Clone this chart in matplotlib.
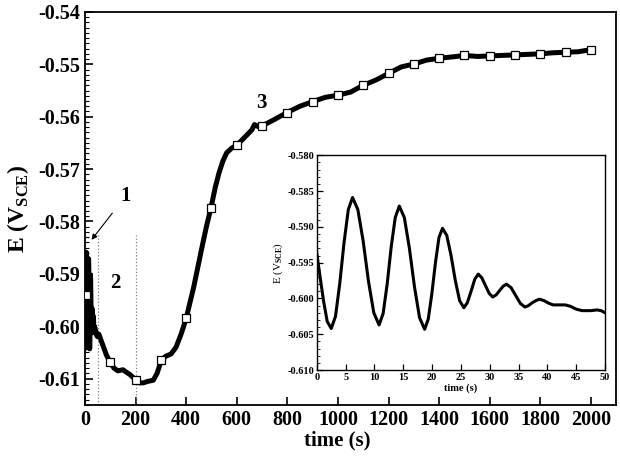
import numpy as np
import matplotlib
matplotlib.use('Agg')
import matplotlib.pyplot as plt
from matplotlib.ticker import MultipleLocator, FormatStrFormatter

plt.rcParams['font.family'] = ['Liberation Serif', 'DejaVu Serif']
plt.rcParams['font.weight'] = 'bold'
plt.rcParams['mathtext.fontset'] = 'custom'
plt.rcParams['mathtext.rm'] = 'Liberation Serif:bold'
plt.rcParams['mathtext.bf'] = 'Liberation Serif:bold'

# inset: first 50 s of the open circuit potential
inset_t = [0, 0.6, 1.2, 1.8, 2.5, 3.24, 3.98, 4.72, 5.46, 6.2,
           7.12, 8.04, 8.96, 9.88, 10.8, 11.5, 12.2, 12.9, 13.6, 14.3,
           15.18, 16.06, 16.94, 17.82, 18.7, 19.32, 19.94, 20.56, 21.18, 21.8,
           22.54, 23.28, 24.02, 24.76, 25.5, 26.1, 26.75, 27.4, 28.0,
           28.6, 29.25, 29.9, 30.5, 31.1, 31.7, 32.3, 32.9,
           33.7, 34.5, 35.3, 36.1, 36.7, 37.35, 38.0, 38.6,
           39.4, 40.3, 41.0, 41.6, 43.1, 44.0, 45.0, 46.0, 47.5, 48.6, 49.3, 50.0]
inset_E = [-0.5937, -0.5972, -0.6005, -0.6032, -0.6042, -0.6025, -0.5979, -0.5922, -0.5876, -0.5859,
           -0.5876, -0.5920, -0.5976, -0.6020, -0.6037, -0.6021, -0.5980, -0.5928, -0.5887, -0.5871,
           -0.5887, -0.5930, -0.5984, -0.6027, -0.6043, -0.6029, -0.5994, -0.5951, -0.5915, -0.5902,
           -0.5912, -0.5940, -0.5975, -0.6003, -0.6013, -0.6006, -0.5990, -0.5973, -0.5966,
           -0.5971, -0.5982, -0.5993, -0.5998, -0.5995, -0.5989, -0.5983, -0.5980,
           -0.5985, -0.5996, -0.6007, -0.6012, -0.6010, -0.6006, -0.6003, -0.6001,
           -0.6003, -0.6007, -0.6009, -0.6009, -0.6009, -0.6011, -0.6015, -0.6017, -0.6017, -0.6016, -0.6017, -0.6020]

# main curve after 50 s
late_t = [55, 70, 85, 100, 115, 130, 150, 165, 180, 200, 215, 230, 250, 270, 285,
          295, 303, 320, 340, 360, 380, 400, 430, 460, 480, 498, 515, 530, 545,
          560, 580, 601, 630, 660, 670, 685, 703, 750, 799, 850, 901, 950, 1000,
          1050, 1100, 1150, 1202, 1250, 1304, 1350, 1407, 1450, 1502, 1550, 1601,
          1650, 1704, 1750, 1802, 1850, 1901, 1950, 2000]
late_E = [-0.6015, -0.6035, -0.6055, -0.6069, -0.6080, -0.6085, -0.6083, -0.6088,
          -0.6093, -0.6102, -0.6108, -0.6108, -0.6105, -0.6103, -0.6090, -0.6075,
          -0.6064, -0.6057, -0.6053, -0.6040, -0.6015, -0.5985, -0.5925, -0.5855,
          -0.5810, -0.5774, -0.5735, -0.5707, -0.5685, -0.5669, -0.5660, -0.5654,
          -0.5640, -0.5625, -0.5615, -0.5619, -0.5617, -0.5605, -0.5592, -0.5580,
          -0.5571, -0.5563, -0.5559, -0.5553, -0.5540, -0.5530, -0.5517, -0.5505,
          -0.5499, -0.5492, -0.5488, -0.5486, -0.5483, -0.5485, -0.5484, -0.5483,
          -0.5482, -0.5481, -0.5480, -0.5478, -0.5477, -0.5476, -0.5472]

marker_t = [5, 100, 200, 300, 400, 500, 600, 700, 800, 900, 1000, 1100, 1200,
            1300, 1400, 1500, 1600, 1700, 1800, 1900, 2000]
marker_E = [-0.5940, -0.6069, -0.6102, -0.6064, -0.5985, -0.5774, -0.5654, -0.5617,
            -0.5592, -0.5571, -0.5559, -0.5540, -0.5517, -0.5499, -0.5488, -0.5483,
            -0.5484, -0.5482, -0.5480, -0.5477, -0.5472]

stage_bounds = [50, 200]

main_t = inset_t + late_t
main_E = inset_E + late_E

fig = plt.figure(figsize=(6.2, 4.58), dpi=100)
ax = fig.add_axes([0.137, 0.116, 0.857, 0.858])

ax.plot(main_t, main_E, color='black', lw=3.6, zorder=3, solid_joinstyle='round')
ax.plot(marker_t, marker_E, ls='none', marker='s', ms=5.5, mfc='white',
        mec='black', mew=0.9, zorder=4)

for xb in stage_bounds:
    ax.plot([xb, xb], [-0.615, -0.5825], ls=':', color='gray', lw=0.9, zorder=2)

ax.set_xlim(0, 2100)
ax.set_ylim(-0.615, -0.54)
ax.xaxis.set_major_locator(MultipleLocator(200))
ax.yaxis.set_major_locator(MultipleLocator(0.01))
ax.yaxis.set_minor_locator(MultipleLocator(0.001))
ax.yaxis.set_major_formatter(FormatStrFormatter('%.2f'))
ax.tick_params(axis='both', which='major', direction='in', length=6, width=1.2,
               labelsize=14.5, top=False, right=False)
ax.tick_params(axis='y', which='minor', direction='in', length=3, width=0.8,
               right=False)
for sp in ax.spines.values():
    sp.set_linewidth(1.3)

ax.set_xlabel('time (s)', fontsize=15, fontweight='bold', labelpad=1)
ax.xaxis.set_label_coords(0.475, -0.065)
ax.set_ylabel(r'E (V$_{\mathrm{SCE}}$)', fontsize=17, fontweight='bold', labelpad=5)

ax.annotate('1', xy=(26, -0.5835), xytext=(160, -0.5752), fontsize=15,
            fontweight='bold', ha='center', va='center',
            arrowprops=dict(arrowstyle='-|>', color='black', lw=0.8,
                            shrinkA=6, shrinkB=0, mutation_scale=8))
ax.text(121, -0.5917, '2', fontsize=15, fontweight='bold', ha='center', va='center')
ax.text(696, -0.5573, '3', fontsize=15, fontweight='bold', ha='center', va='center')

# inset
axi = fig.add_axes([0.511, 0.192, 0.465, 0.469])
axi.plot(inset_t, inset_E, color='black', lw=2.2, solid_joinstyle='round')
axi.set_xlim(0, 50)
axi.set_ylim(-0.610, -0.580)
axi.xaxis.set_major_locator(MultipleLocator(5))
axi.yaxis.set_major_locator(MultipleLocator(0.005))
axi.yaxis.set_minor_locator(MultipleLocator(0.001))
axi.yaxis.set_major_formatter(FormatStrFormatter('%.3f'))
axi.tick_params(axis='both', which='major', direction='in', length=4, width=0.9,
                labelsize=7.5, top=False, right=False, pad=2)
axi.tick_params(axis='y', which='minor', direction='in', length=2, width=0.6,
                right=False)
for sp in axi.spines.values():
    sp.set_linewidth(1.0)
axi.set_xlabel('time (s)', fontsize=7.5, fontweight='bold', labelpad=1)
axi.set_ylabel(r'E (V$_{\mathrm{SCE}}$)', fontsize=8, labelpad=2)

fig.savefig('out.png', dpi=100)
